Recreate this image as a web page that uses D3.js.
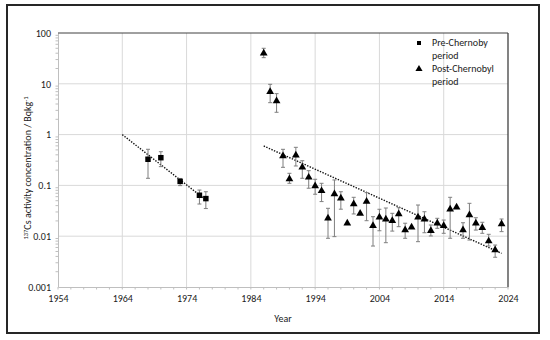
<!DOCTYPE html>
<html><head><meta charset="utf-8">
<script src="https://cdn.jsdelivr.net/npm/d3@7/dist/d3.min.js"></script>
<style>body{margin:0;background:#fff}svg{display:block}text{font-family:Carlito,Lato,"Liberation Sans",sans-serif;fill:#1a1a1a}</style>
</head><body>
<script>
// ---- data ----
const xTicks = [1954, 1964, 1974, 1984, 1994, 2004, 2014, 2024];
const yTicks = [0.001, 0.01, 0.1, 1, 10, 100];
const yTickLabels = ["0.001", "0.01", "0.1", "1", "10", "100"];

const preYears  = [1968, 1970, 1973, 1976, 1977];
const preValues = [0.327, 0.351, 0.120, 0.064, 0.055];
const preLow    = [0.138, 0.234, 0.099, 0.043, 0.035];
const preHigh   = [0.514, 0.460, 0.137, 0.081, 0.075];

const postYears  = [1986,1987,1988,1989,1990,1991,1992,1993,1994,1995,1996,1997,1998,1999,2000,
                    2001,2002,2003,2004,2005,2006,2007,2008,2009,2010,2011,2012,2013,2014,2015,
                    2016,2017,2018,2019,2020,2021,2022,2023];
const postValues = [39.8,7.0,4.6,0.379,0.134,0.391,0.227,0.144,0.097,0.078,0.0225,0.068,0.056,0.018,0.043,
                    0.028,0.048,0.0161,0.0236,0.0215,0.0202,0.0274,0.0132,0.015,0.0236,0.0215,0.0128,0.018,0.0161,0.0339,
                    0.0371,0.0132,0.0261,0.018,0.0147,0.008,0.00535,0.0174];
const postLow    = [32.7,4.25,2.75,0.227,0.110,0.241,0.138,0.088,0.067,0.048,0.0091,0.0098,0.034,0.018,0.0274,
                    0.028,0.0202,0.0064,0.0128,0.00745,0.0126,0.0154,0.0091,0.015,0.0078,0.0117,0.0101,0.0143,0.0114,0.0091,
                    0.0371,0.0091,0.0084,0.0132,0.0114,0.0064,0.00385,0.0123];
const postHigh   = [50,9.77,6.4,0.513,0.173,0.562,0.306,0.195,0.132,0.110,0.0354,0.128,0.075,0.018,0.0583,
                    0.028,0.0719,0.0242,0.0339,0.0359,0.0282,0.0364,0.018,0.015,0.0411,0.0303,0.0166,0.0225,0.0208,0.0583,
                    0.0371,0.0184,0.0444,0.0231,0.0188,0.0109,0.0067,0.0218];

const preTrendYears = [1964, 1977];
const preTrendValues = [1.0, 0.0516];
const postTrendYears = [1986, 2023];
const postTrendValues = [0.597, 0.0046];

const legendLabels = [["Pre-Chernoby", "period"], ["Post-Chernobyl", "period"]];

// ---- chart ----
const W = 550, H = 340;
const svg = d3.select("body").append("svg").attr("width", W).attr("height", H);
const L = 58, R = 508, T = 33, B = 287;
const x = d3.scaleLinear().domain([1954, 2024]).range([L, R]);
const y = d3.scaleLog().domain([0.001, 100]).range([B, T]);

svg.append("rect").attr("x", 7).attr("y", 5).attr("width", 532).attr("height", 328)
  .attr("fill", "#fff").attr("stroke", "#262626").attr("stroke-width", 2);

// grid
svg.append("g").selectAll("line").data(xTicks.slice(1, -1)).join("line")
  .attr("x1", d => x(d)).attr("x2", d => x(d)).attr("y1", T).attr("y2", B)
  .attr("stroke", "#d9d9d9").attr("stroke-width", 1);
svg.append("g").selectAll("line").data(yTicks.slice(1, -1)).join("line")
  .attr("x1", L).attr("x2", R).attr("y1", d => y(d)).attr("y2", d => y(d))
  .attr("stroke", "#d9d9d9").attr("stroke-width", 1);

// axes
const xAxis = d3.axisBottom(x).tickValues(xTicks).tickFormat(d3.format("d")).tickSize(0).tickPadding(8);
const gx = svg.append("g").attr("transform", `translate(0,${B})`).call(xAxis);
gx.select(".domain").attr("stroke", "#bfbfbf");
gx.selectAll("text").attr("font-size", 10).attr("font-family", "Carlito,Lato,sans-serif").attr("fill", "#1a1a1a");
const minorX = d3.range(1954, 2025, 2);
svg.append("g").selectAll("line").data(minorX).join("line")
  .attr("x1", d => x(d)).attr("x2", d => x(d)).attr("y1", B).attr("y2", B + 2.5)
  .attr("stroke", "#bfbfbf");

const yAxis = d3.axisLeft(y).tickValues(yTicks).tickFormat((d, i) => yTickLabels[i]).tickSize(0).tickPadding(7);
const gy = svg.append("g").attr("transform", `translate(${L},0)`).call(yAxis);
gy.select(".domain").attr("stroke", "#bfbfbf");
gy.selectAll("text").attr("font-size", 10).attr("font-family", "Carlito,Lato,sans-serif").attr("fill", "#1a1a1a");
const minorY = [];
[0.001, 0.01, 0.1, 1, 10].forEach(b => { for (let k = 2; k <= 9; k++) minorY.push(b * k); });
svg.append("g").selectAll("line").data(minorY).join("line")
  .attr("x1", L - 2.5).attr("x2", L).attr("y1", d => y(d)).attr("y2", d => y(d))
  .attr("stroke", "#bfbfbf");

// plot frame top/right
svg.append("line").attr("x1", L).attr("x2", R).attr("y1", T).attr("y2", T).attr("stroke", "#404040").attr("stroke-width", 1);
svg.append("line").attr("x1", R).attr("x2", R).attr("y1", T).attr("y2", B).attr("stroke", "#404040").attr("stroke-width", 1.3);

// axis titles
svg.append("text").attr("x", x(1989)).attr("y", 322).attr("text-anchor", "middle")
  .attr("font-size", 10).text("Year");
const yt = svg.append("text").attr("transform", `translate(31,${168}) rotate(-90)`)
  .attr("text-anchor", "middle").attr("font-size", 10);
yt.append("tspan").attr("font-size", 6.5).attr("dy", -3.5).text("137");
yt.append("tspan").attr("dy", 3.5).text("Cs activity concentration / Bqkg");
yt.append("tspan").attr("font-size", 6.5).attr("dy", -3.5).text("-1");

// trend lines
const line = d3.line().x(d => x(d[0])).y(d => y(d[1]));
[[preTrendYears, preTrendValues], [postTrendYears, postTrendValues]].forEach(([ys, vs]) => {
  svg.append("path").attr("d", line(ys.map((yr, i) => [yr, vs[i]])))
    .attr("fill", "none").attr("stroke", "#111").attr("stroke-width", 1.4).attr("stroke-dasharray", "1.4,1.4");
});

// error bars
function errBars(years, low, high) {
  const g = svg.append("g").attr("stroke", "#7f7f7f").attr("stroke-width", 1);
  years.forEach((yr, i) => {
    if (high[i] === low[i]) return;
    const cx = x(yr);
    g.append("line").attr("x1", cx).attr("x2", cx).attr("y1", y(high[i])).attr("y2", y(low[i]));
    g.append("line").attr("x1", cx - 2).attr("x2", cx + 2).attr("y1", y(high[i])).attr("y2", y(high[i]));
    g.append("line").attr("x1", cx - 2).attr("x2", cx + 2).attr("y1", y(low[i])).attr("y2", y(low[i]));
  });
}
errBars(preYears, preLow, preHigh);
errBars(postYears, postLow, postHigh);

// markers
const sq = d3.symbol().type(d3.symbolSquare).size(30);
const tri = d3.symbol().type(d3.symbolTriangle).size(26);
svg.append("g").selectAll("path").data(preYears).join("path")
  .attr("d", sq).attr("transform", (d, i) => `translate(${x(d)},${y(preValues[i])})`).attr("fill", "#000");
svg.append("g").selectAll("path").data(postYears).join("path")
  .attr("d", tri).attr("transform", (d, i) => `translate(${x(d)},${y(postValues[i])})`).attr("fill", "#000");

// legend
const lg = svg.append("g");
lg.append("path").attr("d", d3.symbol().type(d3.symbolSquare).size(16)).attr("transform", "translate(419,43)").attr("fill", "#000");
lg.append("path").attr("d", d3.symbol().type(d3.symbolTriangle).size(22)).attr("transform", "translate(419,69)").attr("fill", "#000");
legendLabels.forEach((lines, i) => {
  const t = lg.append("text").attr("x", 432).attr("y", 46 + i * 26).attr("font-size", 10);
  lines.forEach((s, j) => t.append("tspan").attr("x", 432).attr("dy", j ? 12.5 : 0).text(s));
});
</script>
</body></html>
